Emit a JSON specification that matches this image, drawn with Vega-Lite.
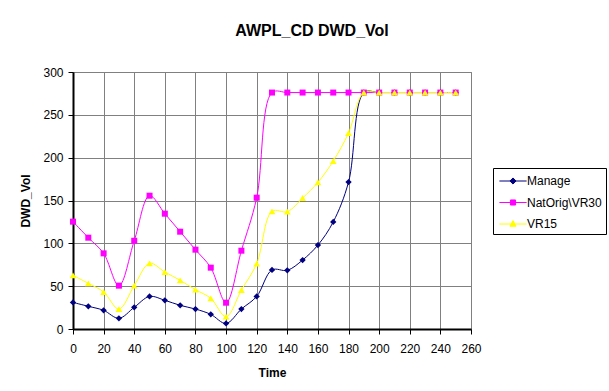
{
  "$schema": "https://vega.github.io/schema/vega-lite/v6.json",
  "width": 398,
  "height": 257,
  "autosize": "none",
  "padding": {"left": 73, "top": 72, "right": 138, "bottom": 62},
  "background": "white",
  "title": {
    "text": "AWPL_CD DWD_Vol",
    "font": "Liberation Sans",
    "fontSize": 16,
    "fontWeight": "bold",
    "color": "black",
    "anchor": "middle",
    "dx": 40,
    "offset": 27
  },
  "config": {
    "view": {"stroke": "#808080", "strokeWidth": 1},
    "axis": {
      "labelFont": "Liberation Sans",
      "labelFontSize": 12,
      "labelColor": "black",
      "labelFlush": false,
      "labelOverlap": false,
      "titleFont": "Liberation Sans",
      "titleFontSize": 12,
      "titleFontWeight": "bold",
      "titleColor": "black",
      "gridColor": "#808080",
      "gridWidth": 1,
      "gridOpacity": 1,
      "domainColor": "black",
      "domainWidth": 2,
      "tickColor": "black",
      "tickSize": 5
    }
  },
  "data": {
    "values": [
      {"Time": 0, "series": "Manage", "v": 31},
      {"Time": 10, "series": "Manage", "v": 26.5},
      {"Time": 20, "series": "Manage", "v": 21.8},
      {"Time": 30, "series": "Manage", "v": 12.5},
      {"Time": 40, "series": "Manage", "v": 25.3},
      {"Time": 50, "series": "Manage", "v": 38},
      {"Time": 60, "series": "Manage", "v": 33.5},
      {"Time": 70, "series": "Manage", "v": 27.6},
      {"Time": 80, "series": "Manage", "v": 23.3},
      {"Time": 90, "series": "Manage", "v": 17.1},
      {"Time": 100, "series": "Manage", "v": 6.5},
      {"Time": 110, "series": "Manage", "v": 23.3},
      {"Time": 120, "series": "Manage", "v": 38},
      {"Time": 130, "series": "Manage", "v": 69},
      {"Time": 140, "series": "Manage", "v": 68.5},
      {"Time": 150, "series": "Manage", "v": 80.5},
      {"Time": 160, "series": "Manage", "v": 98},
      {"Time": 170, "series": "Manage", "v": 125},
      {"Time": 180, "series": "Manage", "v": 171.5},
      {"Time": 190, "series": "Manage", "v": 276},
      {"Time": 200, "series": "Manage", "v": 276},
      {"Time": 210, "series": "Manage", "v": 276},
      {"Time": 220, "series": "Manage", "v": 276},
      {"Time": 230, "series": "Manage", "v": 276},
      {"Time": 240, "series": "Manage", "v": 276},
      {"Time": 250, "series": "Manage", "v": 276},
      {"Time": 0, "series": "NatOrig\\VR30", "v": 125.3},
      {"Time": 10, "series": "NatOrig\\VR30", "v": 106.6},
      {"Time": 20, "series": "NatOrig\\VR30", "v": 88.3},
      {"Time": 30, "series": "NatOrig\\VR30", "v": 50.6},
      {"Time": 40, "series": "NatOrig\\VR30", "v": 103},
      {"Time": 50, "series": "NatOrig\\VR30", "v": 155.6},
      {"Time": 60, "series": "NatOrig\\VR30", "v": 134.6},
      {"Time": 70, "series": "NatOrig\\VR30", "v": 113.6},
      {"Time": 80, "series": "NatOrig\\VR30", "v": 92.6},
      {"Time": 90, "series": "NatOrig\\VR30", "v": 71.6},
      {"Time": 100, "series": "NatOrig\\VR30", "v": 30.7},
      {"Time": 110, "series": "NatOrig\\VR30", "v": 91.4},
      {"Time": 120, "series": "NatOrig\\VR30", "v": 153.3},
      {"Time": 130, "series": "NatOrig\\VR30", "v": 276},
      {"Time": 140, "series": "NatOrig\\VR30", "v": 276},
      {"Time": 150, "series": "NatOrig\\VR30", "v": 276},
      {"Time": 160, "series": "NatOrig\\VR30", "v": 276},
      {"Time": 170, "series": "NatOrig\\VR30", "v": 276},
      {"Time": 180, "series": "NatOrig\\VR30", "v": 276},
      {"Time": 190, "series": "NatOrig\\VR30", "v": 276},
      {"Time": 200, "series": "NatOrig\\VR30", "v": 276},
      {"Time": 210, "series": "NatOrig\\VR30", "v": 276},
      {"Time": 220, "series": "NatOrig\\VR30", "v": 276},
      {"Time": 230, "series": "NatOrig\\VR30", "v": 276},
      {"Time": 240, "series": "NatOrig\\VR30", "v": 276},
      {"Time": 250, "series": "NatOrig\\VR30", "v": 276},
      {"Time": 0, "series": "VR15", "v": 62.6},
      {"Time": 10, "series": "VR15", "v": 53.3},
      {"Time": 20, "series": "VR15", "v": 43.2},
      {"Time": 30, "series": "VR15", "v": 23.3},
      {"Time": 40, "series": "VR15", "v": 50.6},
      {"Time": 50, "series": "VR15", "v": 76.7},
      {"Time": 60, "series": "VR15", "v": 66.5},
      {"Time": 70, "series": "VR15", "v": 56.8},
      {"Time": 80, "series": "VR15", "v": 45.9},
      {"Time": 90, "series": "VR15", "v": 35.8},
      {"Time": 100, "series": "VR15", "v": 14.4},
      {"Time": 110, "series": "VR15", "v": 45.5},
      {"Time": 120, "series": "VR15", "v": 76.3},
      {"Time": 130, "series": "VR15", "v": 137.4},
      {"Time": 140, "series": "VR15", "v": 137},
      {"Time": 150, "series": "VR15", "v": 152.9},
      {"Time": 160, "series": "VR15", "v": 171.2},
      {"Time": 170, "series": "VR15", "v": 196.1},
      {"Time": 180, "series": "VR15", "v": 228.8},
      {"Time": 190, "series": "VR15", "v": 276},
      {"Time": 200, "series": "VR15", "v": 276},
      {"Time": 210, "series": "VR15", "v": 276},
      {"Time": 220, "series": "VR15", "v": 276},
      {"Time": 230, "series": "VR15", "v": 276},
      {"Time": 240, "series": "VR15", "v": 276},
      {"Time": 250, "series": "VR15", "v": 276}
    ]
  },
  "encoding": {
    "x": {
      "field": "Time",
      "type": "quantitative",
      "title": "Time",
      "scale": {"domain": [0, 260], "nice": false, "zero": false},
      "axis": {"values": [0,20,40,60,80,100,120,140,160,180,200,220,240,260], "labelPadding": 9, "titlePadding": 13}
    },
    "y": {
      "field": "v",
      "type": "quantitative",
      "title": "DWD_Vol",
      "scale": {"domain": [0, 300], "nice": false},
      "axis": {"values": [0,50,100,150,200,250,300], "labelPadding": 5, "titlePadding": 10}
    },
    "color": {
      "field": "series",
      "type": "nominal",
      "scale": {"domain": ["Manage", "NatOrig\\VR30", "VR15"], "range": ["#000080", "#FF00FF", "#FFFF00"]},
      "legend": {
        "title": null,
        "orient": "none",
        "legendX": 420,
        "legendY": 96,
        "strokeColor": "black",
        "fillColor": "white",
        "padding": 4,
        "labelFont": "Liberation Sans",
        "labelFontSize": 12,
        "labelColor": "black",
        "symbolSize": 289,
        "symbolStrokeWidth": 1,
        "symbolOffset": 7,
        "labelOffset": 5,
        "rowPadding": 6.5,
        "symbolType": "M-1.6,0L1.6,0",
        "encode": {
          "symbols": {
            "update": {
              "shape": {"signal": "datum.value === 'Manage' ? 'M-1.6,0L1.6,0M0,-0.36L0.36,0L0,0.36L-0.36,0Z' : datum.value === 'VR15' ? 'M-1.6,0L1.6,0M0,-0.4L0.36,0.26L-0.36,0.26Z' : 'M-1.6,0L1.6,0M-0.3,-0.3L0.3,-0.3L0.3,0.3L-0.3,0.3Z'"},
              "fill": {"signal": "scale('color', datum.value)"},
              "stroke": {"signal": "scale('color', datum.value)"},
              "fillOpacity": {"value": 1},
              "strokeOpacity": {"value": 1}
            }
          }
        }
      }
    }
  },
  "layer": [
    {
      "mark": {"type": "line", "interpolate": "catmull-rom", "strokeWidth": 1},
      "encoding": {}
    },
    {
      "transform": [{"filter": "datum.series === 'Manage'"}],
      "mark": {"type": "point", "filled": true, "opacity": 1, "size": 40, "shape": "diamond"},
      "encoding": {}
    },
    {
      "transform": [{"filter": "datum.series === 'NatOrig\\\\VR30'"}],
      "mark": {"type": "point", "filled": true, "opacity": 1, "size": 36, "shape": "square"},
      "encoding": {}
    },
    {
      "transform": [{"filter": "datum.series === 'VR15'"}],
      "mark": {"type": "point", "filled": true, "opacity": 1, "size": 45, "shape": "triangle-up"},
      "encoding": {}
    }
  ]
}
